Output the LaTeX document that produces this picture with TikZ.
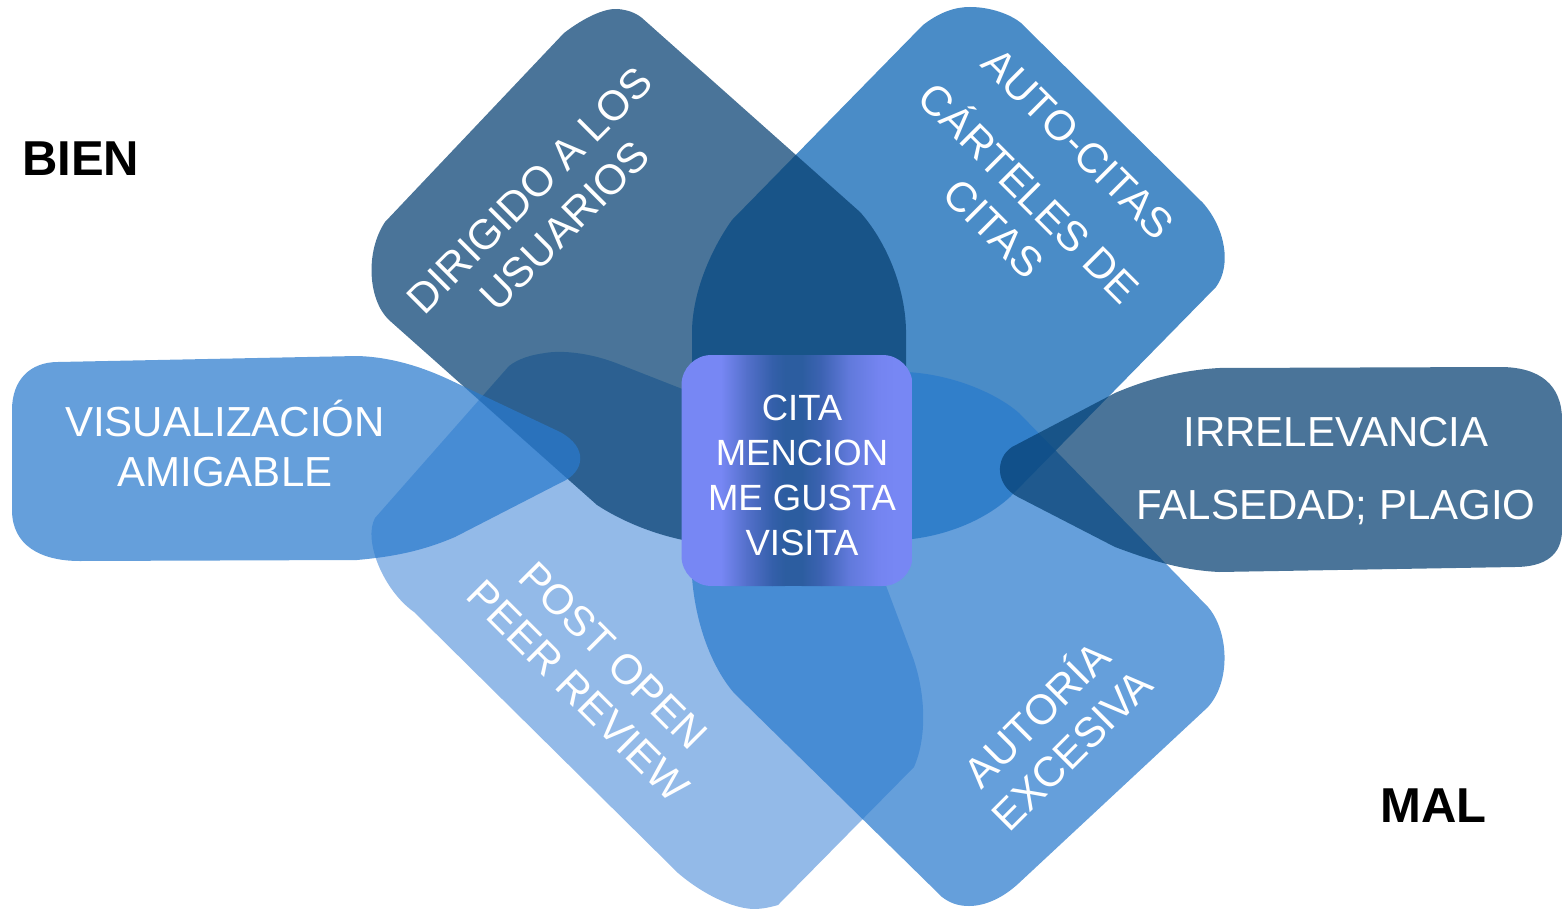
\documentclass[tikz,border=0pt]{standalone}
\usepackage{fontspec}
\setmainfont{Liberation Sans}
\definecolor{cTL}{RGB}{4,63,113}
\definecolor{cTR}{RGB}{4,95,177}
\definecolor{cBL}{RGB}{106,159,223}
\definecolor{cBR}{RGB}{41,122,205}
\definecolor{boxA}{RGB}{119,135,244}
\definecolor{boxB}{RGB}{84,112,203}
\definecolor{boxC}{RGB}{52,95,170}
\definecolor{boxD}{RGB}{44,93,160}
\definecolor{boxE}{RGB}{61,99,179}
\definecolor{boxF}{RGB}{96,121,218}
\definecolor{boxG}{RGB}{116,132,240}
\begin{document}
\begin{tikzpicture}[x=1pt,y=-1pt,
  petal/.style={fill opacity=0.72},
  lbl/.style={text=white, align=center, inner sep=0pt, font=\fontsize{42}{50}\selectfont},
  centerbox/.style={minimum width=231pt, minimum height=231pt, inner sep=0pt},
  band/.style={draw=none},
  side/.style={anchor=base west, inner sep=0pt, text=black, font=\fontsize{49}{58}\selectfont\bfseries}]
\useasboundingbox (0,0) rectangle (1562,909);

% top-right petal
\fill[petal, cTR] (923,25) .. controls (940,12) and (955,7) .. (970,7) .. controls (990,7) and (1010,14) .. (1021,23) -- (1203,203) .. controls (1225,228) and (1232,265) .. (1216,287) -- (1010,497) .. controls (985,520) and (945,537) .. (902,540) .. controls (800,560) and (695,500) .. (692,400) -- (692,330) .. controls (693,290) and (712,248) .. (732,220) -- cycle;

% bottom-left petal
\fill[petal, cBL] (690,392) -- (616,363) .. controls (590,353) and (562,350) .. (545,353) .. controls (530,355) and (518,359) .. (509,366) -- (375,518) .. controls (363,540) and (383,590) .. (414,612) -- (678,873) .. controls (700,892) and (730,908) .. (753,909) .. controls (763,909) and (771,907) .. (778,905) -- (914,767) .. controls (928,735) and (925,690) .. (912,655) -- (885,583) -- (860,560) .. controls (780,520) and (710,460) .. (690,392) -- cycle;

% top-left petal
\fill[petal, cTL] (564,33) .. controls (585,17) and (605,8) .. (618,9) .. controls (628,10) and (636,13) .. (642,18) -- (860,212) .. controls (885,240) and (905,285) .. (906,330) -- (906,470) .. controls (880,560) and (760,560) .. (683,540) .. controls (650,533) and (620,520) .. (597,505) -- (389,320) .. controls (368,300) and (365,252) .. (385,222) -- cycle;

% bottom-right petal
\fill[petal, cBR] (906,372) .. controls (950,374) and (995,392) .. (1019,413) -- (1208,607) .. controls (1228,630) and (1232,680) .. (1208,707) -- (1019,883) .. controls (1003,898) and (985,906) .. (969,906) .. controls (958,906) and (950,903) .. (942,897) -- (734,693) .. controls (710,665) and (695,620) .. (692,577) -- (692,540) .. controls (692,450) and (760,380) .. (906,372) -- cycle;

% left petal
\fill[petal, cBR] (12,410) .. controls (12,380) and (30,362) .. (58,362) -- (357,356) .. controls (390,357) and (420,366) .. (450,380) -- (560,432) .. controls (588,447) and (586,472) .. (560,483) -- (455,537) .. controls (420,552) and (390,557) .. (357,560) -- (80,561) .. controls (40,561) and (12,545) .. (12,510) -- cycle;

% right petal
\fill[petal, cTL] (1219,368) -- (1500,367) .. controls (1540,367) and (1562,385) .. (1562,420) -- (1562,530) .. controls (1562,555) and (1545,567) .. (1515,567) -- (1219,572) .. controls (1180,570) and (1150,560) .. (1115,547) -- (1018,497) .. controls (995,485) and (995,458) .. (1012,447) -- (1115,393) .. controls (1150,378) and (1185,370) .. (1219,368) -- cycle;

% centre box with horizontal gradient
\begin{scope}
\clip[rounded corners=30pt] (681.5,355) rectangle (912.5,586);
\fill[boxA] (681,355) rectangle (721.3,586);
\shade[band, left color=boxA, right color=boxB] (720.8,355) rectangle (746.7,586);
\shade[band, left color=boxB, right color=boxC] (746.2,355) rectangle (772.7,586);
\shade[band, left color=boxC, right color=boxD] (772.2,355) rectangle (785,586);
\fill[boxD] (784.5,355) rectangle (802,586);
\shade[band, left color=boxD, right color=boxE] (801.5,355) rectangle (822.1,586);
\shade[band, left color=boxE, right color=boxF] (821.6,355) rectangle (848.3,586);
\shade[band, left color=boxF, right color=boxG] (847.8,355) rectangle (878.4,586);
\shade[band, left color=boxG, right color=boxA] (877.9,355) rectangle (895,586);
\fill[boxA] (894.5,355) rectangle (913,586);
\end{scope}
\node[centerbox] (core) at (797,470.5) {};
\node[lbl, font=\fontsize{36.5}{45}\selectfont] (coreText) at (802,475) {CITA\\MENCION\\ME GUSTA\\VISITA};

% labels
\node[lbl, rotate=45] (tlText) at (547,208) {DIRIGIDO A LOS\\USUARIOS};
\node[lbl, rotate=-45] (trText) at (1036,186) {AUTO-CITAS\\[20pt]CÁRTELES DE\\CITAS};
\node[lbl] (wText) at (225,443.5) {VISUALIZACIÓN\\AMIGABLE};
\node[lbl] (eText) at (1336,471.5) {IRRELEVANCIA\\[23pt]FALSEDAD; PLAGIO};
\node[lbl, rotate=-45] (blText) at (596,673) {POST OPEN\\PEER REVIEW};
\node[lbl, rotate=45] (brText) at (1052,730) {AUTORÍA\\EXCESIVA};

\node[side] (bien) at (22,176) {BIEN};
\node[side] (mal) at (1380,822) {MAL};
\end{tikzpicture}
\end{document}
